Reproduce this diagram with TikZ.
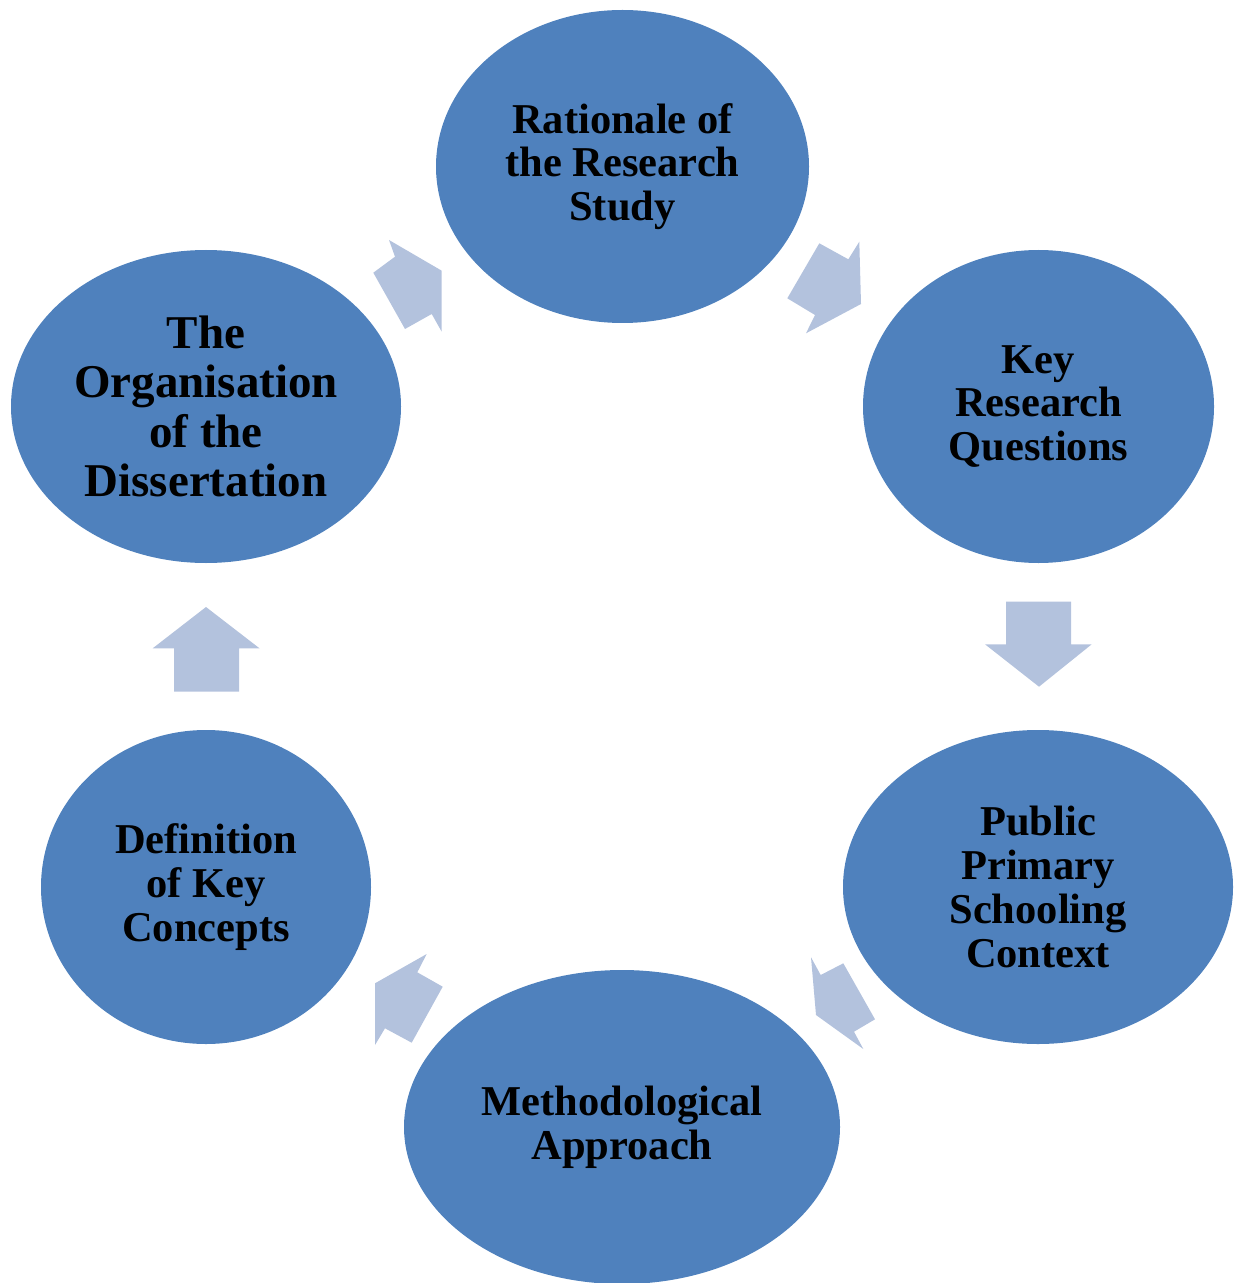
\documentclass[tikz,border=0pt]{standalone}
\usepackage{fontspec}
\setmainfont{Liberation Serif}
\usetikzlibrary{shapes.geometric}
\definecolor{ellblue}{HTML}{4F81BD}
\definecolor{arrblue}{HTML}{B3C2DD}
\tikzset{
  stage/.style={ellipse, fill=ellblue, draw=none, inner sep=0pt, align=center,
    font=\fontsize{21.25}{21.9}\selectfont\bfseries, text=black},
  bigstage/.style={stage, font=\fontsize{23.5}{24.8}\selectfont\bfseries},
  blockarrow/.style={fill=arrblue, draw=none}
}
\begin{document}
\begin{tikzpicture}[x=0.5pt,y=-0.5pt]
\useasboundingbox (0,0) rectangle (1239,1283);
% stages
\node[stage, minimum width=186.5pt, minimum height=156.5pt] (rat) at (622.5,166.5) {Rationale of\\the Research\\Study};
\node[stage, minimum width=175.5pt, minimum height=156.5pt] (key) at (1038.5,406.5) {Key\\Research\\Questions};
\node[stage, minimum width=195pt, minimum height=157pt] (pub) at (1038,887) {Public\\Primary\\Schooling\\Context};
\node[stage, minimum width=218pt, minimum height=157pt] (met) at (622,1127) {Methodological\\Approach};
\node[stage, minimum width=165pt, minimum height=157pt] (def) at (206,887) {Definition\\of Key\\Concepts};
\node[bigstage, minimum width=195pt, minimum height=156.5pt] (org) at (206,406.5) {The\\Organisation\\of the\\Dissertation};
% block arrows
\fill[blockarrow] (819.3,243.3) -- (848.3,259.3) -- (859.3,241.7) -- (861,304) -- (806,333.3) -- (815,315) -- (787.3,298.3) -- cycle;
\fill[blockarrow] (1039,686.7) -- (1091.7,644.3) -- (1071,644.3) -- (1071,601.7) -- (1006,601.7) -- (1006,644.3) -- (985,644.3) -- cycle;
\fill[blockarrow] (811,957.3) -- (820.7,975) -- (843.3,963.3) -- (875,1019.3) -- (854,1031.7) -- (863.3,1049) -- (816,1015) -- cycle;
\fill[blockarrow] (426.7,954) -- (417.3,972.3) -- (442.7,986.7) -- (411.7,1042.7) -- (385,1028.3) -- (375,1045) -- (375,983.3) -- cycle;
\fill[blockarrow] (206,607) -- (259.5,648.3) -- (239,648.3) -- (239,691.7) -- (174,691.7) -- (174,648.3) -- (152.7,648.3) -- cycle;
\fill[blockarrow] (389,240) -- (395,256.7) -- (373.3,272.7) -- (405,329) -- (431.7,314) -- (441.7,331.7) -- (441.7,270.7) -- cycle;
\end{tikzpicture}
\end{document}
